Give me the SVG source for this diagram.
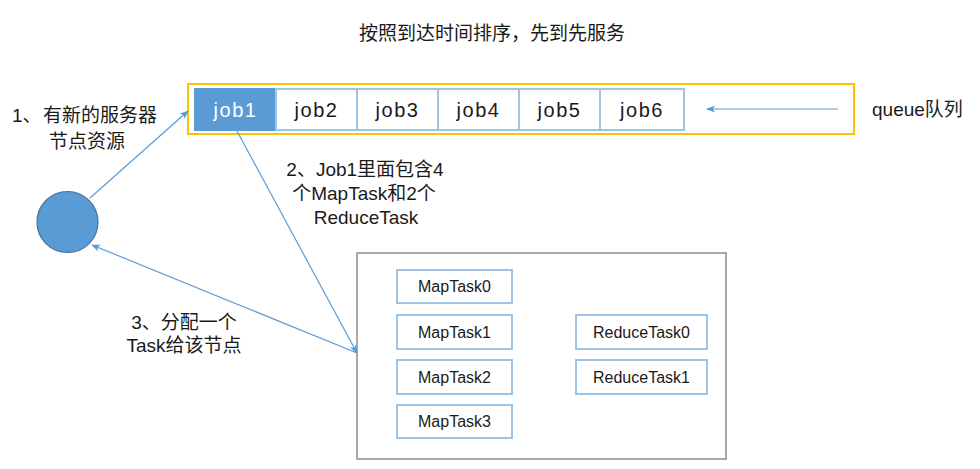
<svg xmlns="http://www.w3.org/2000/svg" width="980" height="469" viewBox="0 0 980 469">
<style>
text{font-family:"Liberation Sans","Noto Sans CJK SC",sans-serif;font-size:19px;fill:#1a1a1a}
.job{fill:#fff;stroke:#9DC3E6;stroke-width:2}
.jt{font-size:20px;text-anchor:middle;letter-spacing:1.5px}
.task{fill:#fff;stroke:#9DC3E6;stroke-width:2}
.tt{font-size:16px;text-anchor:middle}
.c{text-anchor:middle}
.ln{stroke:#5B9BD5;stroke-width:1.2;fill:none;marker-end:url(#ah)}
</style>
<defs>
<marker id="ah" viewBox="0 0 10 10" refX="9" refY="5" markerWidth="9" markerHeight="9" markerUnits="userSpaceOnUse" orient="auto">
<path d="M0,1 L10,5 L0,9 L2.5,5 Z" fill="#5B9BD5"/>
</marker>
</defs>
<rect width="980" height="469" fill="#fff"/>
<text id="title" class="c" x="492" y="40">按照到达时间排序，先到先服务</text>
<g id="queue">
<rect x="188" y="84" width="666" height="50" fill="#fff" stroke="#FFC000" stroke-width="2"/>
</g>
<g id="job1"><rect x="195" y="89" width="81" height="41" fill="#5B9BD5" stroke="#5B9BD5" stroke-width="2"/><text class="jt" x="235.5" y="117" style="fill:#fff">job1</text></g>
<g id="job2"><rect class="job" x="276" y="89" width="81" height="41"/><text class="jt" x="316.5" y="117">job2</text></g>
<g id="job3"><rect class="job" x="357" y="89" width="81" height="41"/><text class="jt" x="397.5" y="117">job3</text></g>
<g id="job4"><rect class="job" x="438" y="89" width="81" height="41"/><text class="jt" x="478.5" y="117">job4</text></g>
<g id="job5"><rect class="job" x="519" y="89" width="81" height="41"/><text class="jt" x="559.5" y="117">job5</text></g>
<g id="job6"><rect class="job" x="600" y="89" width="84" height="41"/><text class="jt" x="642" y="117">job6</text></g>
<text id="queue-label" x="872" y="116">queue队列</text>
<g id="node"><circle cx="67.5" cy="222" r="30.5" fill="#5B9BD5" stroke="#41719C" stroke-width="1.2"/></g>
<g id="tasks">
<rect x="357" y="253" width="369" height="206" fill="#fff" stroke="#8c8c8c" stroke-width="1.5"/>
</g>
<g id="MapTask0"><rect class="task" x="397" y="270" width="115" height="33"/><text class="tt" x="454.5" y="292">MapTask0</text></g>
<g id="MapTask1"><rect class="task" x="397" y="315" width="115" height="34"/><text class="tt" x="454.5" y="338">MapTask1</text></g>
<g id="MapTask2"><rect class="task" x="397" y="360" width="115" height="34"/><text class="tt" x="454.5" y="383">MapTask2</text></g>
<g id="MapTask3"><rect class="task" x="397" y="405" width="115" height="33"/><text class="tt" x="454.5" y="427">MapTask3</text></g>
<g id="ReduceTask0"><rect class="task" x="576" y="315" width="131" height="34"/><text class="tt" x="641.5" y="338">ReduceTask0</text></g>
<g id="ReduceTask1"><rect class="task" x="576" y="360" width="131" height="34"/><text class="tt" x="641.5" y="383">ReduceTask1</text></g>
<g id="connectors">
<line class="ln" x1="838" y1="109" x2="707" y2="109"/>
<line class="ln" x1="90" y1="198" x2="188" y2="111"/>
<line class="ln" x1="237" y1="131" x2="357" y2="353"/>
<line class="ln" x1="357" y1="353" x2="92" y2="245"/>
</g>
<g id="labels">
<text x="12" y="122">1、<tspan x="43">有新的服务器</tspan></text>
<text class="c" x="87" y="148">节点资源</text>
<text class="c" x="365" y="176">2、Job1里面包含4</text>
<text class="c" x="364" y="200">个MapTask和2个</text>
<text class="c" x="366" y="224">ReduceTask</text>
<text class="c" x="184" y="329">3、分配一个</text>
<text class="c" x="184" y="352">Task给该节点</text>
</g>
</svg>
